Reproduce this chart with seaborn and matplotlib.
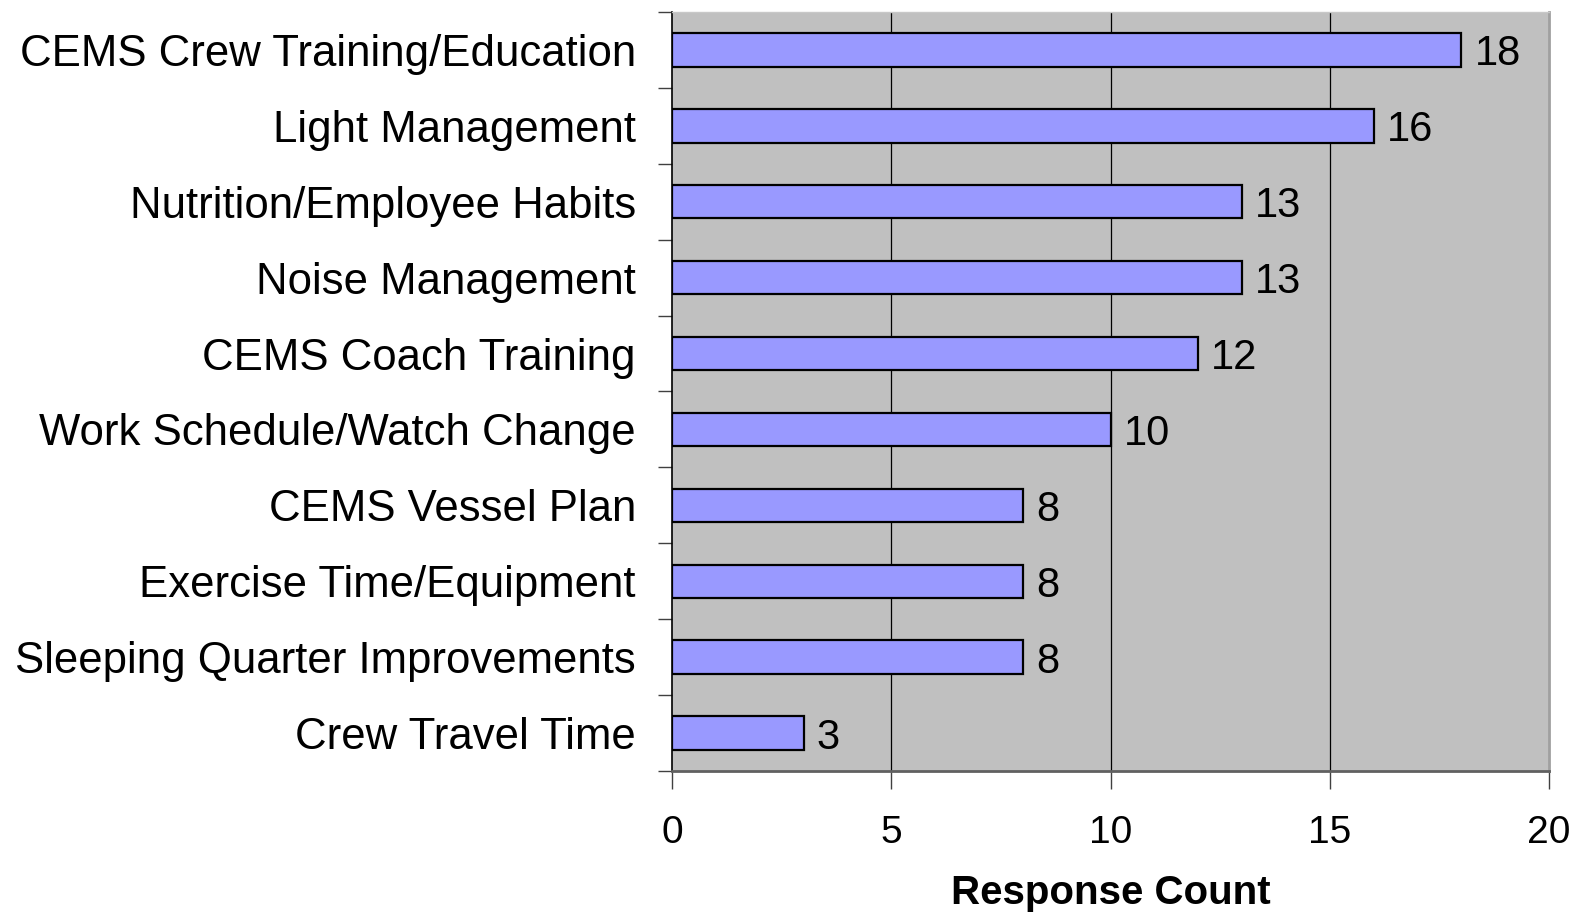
import matplotlib
matplotlib.use("Agg")
from matplotlib import pyplot as plt
from matplotlib.ticker import FixedLocator
import numpy as np
import pandas as pd
import seaborn as sns

categories = [
    "CEMS Crew Training/Education",
    "Light Management",
    "Nutrition/Employee Habits",
    "Noise Management",
    "CEMS Coach Training",
    "Work Schedule/Watch Change",
    "CEMS Vessel Plan",
    "Exercise Time/Equipment",
    "Sleeping Quarter Improvements",
    "Crew Travel Time",
]
counts = [18, 16, 13, 13, 12, 10, 8, 8, 8, 3]
x_ticks = [0, 5, 10, 15, 20]

sns.set_theme(style="white")
plt.rcParams["font.family"] = ["Liberation Sans", "DejaVu Sans"]
plt.rcParams["text.color"] = "black"
plt.rcParams["xtick.color"] = "black"
plt.rcParams["ytick.color"] = "black"
plt.rcParams["axes.labelcolor"] = "black"

df = pd.DataFrame({"Category": categories, "Count": counts})

fig = plt.figure(figsize=(15.91, 9.14), dpi=100)
ax = fig.add_axes([672 / 1591, 1 - 771 / 914, (1549 - 672) / 1591, (771 - 12) / 914])
ax.set_facecolor("#C0C0C0")

sns.barplot(ax=ax, data=df, x="Count", y="Category", orient="h",
            color="#9999FF", edgecolor="black", linewidth=1.6, width=0.44,
            saturation=1)

# value labels
for i, v in enumerate(counts):
    ax.text(v + 0.3, i, str(v), va="center_baseline", ha="left", fontsize=30, color="black")

ax.set_xlim(0, 20)
ax.set_ylim(len(categories) - 0.5, -0.5)
ax.set_xticks(x_ticks)
ax.set_xticklabels([str(t) for t in x_ticks], fontsize=28)
ax.tick_params(axis="x", bottom=True, direction="out", length=13, width=1,
               color="#404040", pad=19)

# gridlines at major x ticks
for t in x_ticks[1:-1]:
    ax.axvline(t, color="black", linewidth=0.9, zorder=0)

# y ticks between categories
ax.yaxis.set_major_locator(FixedLocator(np.arange(len(categories))))
ax.set_yticklabels(categories, fontsize=31.5)
ax.yaxis.set_minor_locator(FixedLocator(np.arange(-0.5, len(categories), 1.0)))
ax.tick_params(axis="y", which="major", left=False, length=0, pad=26)
ax.tick_params(axis="y", which="minor", left=True, direction="out", length=10,
               width=1, color="#404040")

ax.set_ylabel("")
ax.set_xlabel("Response Count", fontsize=29, fontweight="bold", labelpad=16)

ax.spines["left"].set_color("black")
ax.spines["left"].set_linewidth(1.2)
ax.spines["bottom"].set_color("#606060")
ax.spines["bottom"].set_linewidth(2)
ax.spines["right"].set_color("#A0A0A0")
ax.spines["right"].set_linewidth(2)
ax.spines["top"].set_color("#C8C8C8")
ax.spines["top"].set_linewidth(1)
ax.set_axisbelow(True)

fig.savefig("out.png", dpi=100)
